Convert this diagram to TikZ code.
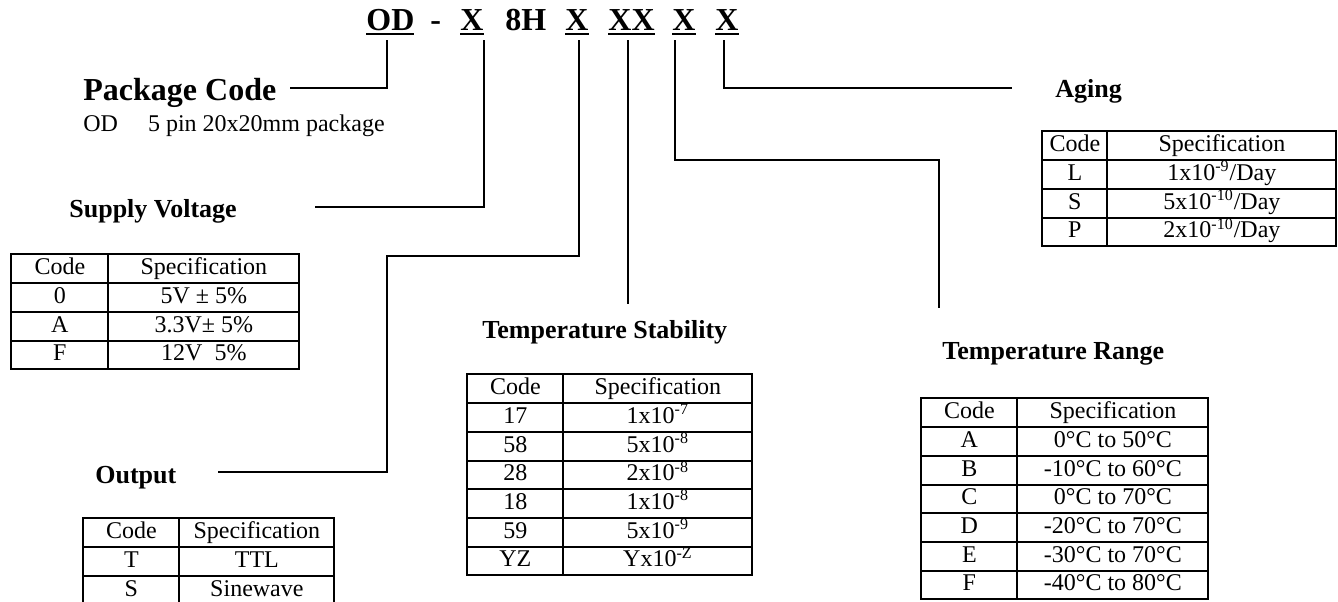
\documentclass[tikz,border=0pt]{standalone}
\usepackage{fontspec}
\setmainfont{Liberation Serif}
\usetikzlibrary{matrix}
\newcommand{\codeul}[1]{\setbox0\hbox{#1}\rlap{\rule[-2.5pt]{\wd0}{1.2pt}}#1}
\newcommand{\tabfont}{\fontsize{12pt}{14pt}\selectfont}

\begin{document}
\begin{tikzpicture}[x=0.5pt, y=-0.5pt,
  codepart/.style={anchor=base west, inner sep=0pt, text depth=5pt,
    font=\fontsize{16pt}{18pt}\selectfont\bfseries},
  head/.style={anchor=base west, inner sep=0pt,
    font=\fontsize{13pt}{15pt}\selectfont\bfseries},
  desc/.style={anchor=base west, inner sep=0pt, font=\fontsize{12pt}{14pt}\selectfont},
  conn/.style={line width=1pt},
  tbl/.style={matrix of nodes, anchor=north west, inner sep=0pt,
    row sep=-1pt, column sep=-1pt,
    nodes={draw, line width=1pt, inner sep=0pt, minimum height=14.35pt,
      text height=8.5pt, text depth=2.5pt, font=\tabfont}}
]
\useasboundingbox (0,0) rectangle (1338,601);
\clip (0,0) rectangle (1338,601);

% part number
\node[codepart] (cOD)  at (366,30) {\codeul{OD}};
\node[codepart] (cDash) at (430,30) {-};
\node[codepart] (cX1)  at (460,30) {\codeul{X}};
\node[codepart] (c8H)  at (505,30) {8H};
\node[codepart] (cX2)  at (565,30) {\codeul{X}};
\node[codepart] (cXX)  at (608,30) {\codeul{XX}};
\node[codepart] (cX3)  at (672,30) {\codeul{X}};
\node[codepart] (cX4)  at (715,30) {\codeul{X}};

% headings
\node[head, font=\fontsize{16pt}{18pt}\selectfont\bfseries] (pkg) at (83,100) {Package Code};
\node[desc] (pkgDesc) at (83,131) {OD\hspace{15pt}5 pin 20x20mm package};
\node[head] (supply) at (69,217)  {Supply Voltage};
\node[head] (output) at (95,483)  {Output};
\node[head] (stab)   at (482,338) {Temperature Stability};
\node[head] (range)  at (942,359) {Temperature Range};
\node[head] (aging)  at (1055,97) {Aging};

% line ends
\coordinate (pkgEnd)    at (290,88);
\coordinate (supEnd)    at (315,207);
\coordinate (outBend)   at (387,256);
\coordinate (outEnd)    at (218,472);
\coordinate (stabEnd)   at (627,304);
\coordinate (rangeBend) at (939,160);
\coordinate (rangeEnd)  at (939,308);
\coordinate (agingEnd)  at (1012,88);

\draw[conn] ([xshift=-1.5pt]cOD.south) |- (pkgEnd);
\draw[conn] (cX1.south east) |- (supEnd);
\draw[conn] ([xshift=1pt]cX2.south) |- (outBend) |- (outEnd);
\draw[conn] ([xshift=-2pt]cXX.south) -- ([xshift=-2pt]cXX.south |- stabEnd);
\draw[conn] ([xshift=1.5pt]cX3.south west) |- (rangeBend) -- (rangeEnd);
\draw[conn] ([xshift=-1.5pt]cX4.south) |- (agingEnd);

% tables
\matrix[tbl, column 1/.style={nodes={minimum width=48.5pt}},
  column 2/.style={nodes={minimum width=95.5pt}}] (tSupply) at (10,253) {
  Code & Specification \\
  0 & 5V ± 5\% \\
  A & 3.3V± 5\% \\
  F & 12V\ \ 5\% \\
};
\matrix[tbl, column 1/.style={nodes={minimum width=48pt}},
  column 2/.style={nodes={minimum width=77.5pt}}] (tOutput) at (82,517) {
  Code & Specification \\
  T & TTL \\
  S & Sinewave \\
};
\matrix[tbl, column 1/.style={nodes={minimum width=48pt}},
  column 2/.style={nodes={minimum width=94.5pt}}] (tStab) at (466,373) {
  Code & Specification \\
  17 & 1x10\textsuperscript{-7} \\
  58 & 5x10\textsuperscript{-8} \\
  28 & 2x10\textsuperscript{-8} \\
  18 & 1x10\textsuperscript{-8} \\
  59 & 5x10\textsuperscript{-9} \\
  YZ & Yx10\textsuperscript{-Z} \\
};
\matrix[tbl, column 1/.style={nodes={minimum width=48pt}},
  column 2/.style={nodes={minimum width=95.5pt}}] (tRange) at (920,397) {
  Code & Specification \\
  A & 0°C to 50°C \\
  B & -10°C to 60°C \\
  C & 0°C to 70°C \\
  D & -20°C to 70°C \\
  E & -30°C to 70°C \\
  F & -40°C to 80°C \\
};
\matrix[tbl, column 1/.style={nodes={minimum width=32.5pt}},
  column 2/.style={nodes={minimum width=114.5pt}}] (tAging) at (1041,130) {
  Code & Specification \\
  L & 1x10\textsuperscript{-9}/Day \\
  S & 5x10\textsuperscript{-10}/Day \\
  P & 2x10\textsuperscript{-10}/Day \\
};
\end{tikzpicture}
\end{document}
